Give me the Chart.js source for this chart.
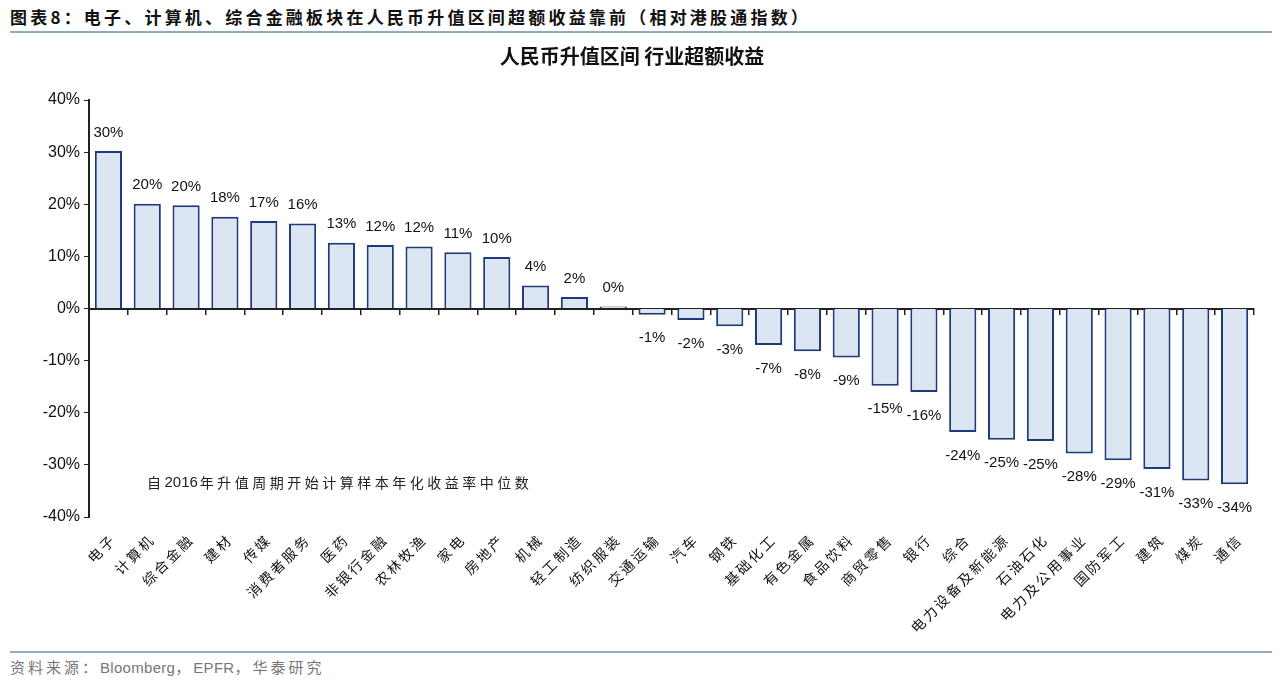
<!DOCTYPE html>
<html>
<head>
<meta charset="utf-8">
<script src="https://cdn.jsdelivr.net/npm/chart.js@4.4.1/dist/chart.umd.min.js"></script>
<style>
  body { margin: 0; background: #fff; width: 1280px; height: 685px; position: relative; overflow: hidden; font-family: "Noto Sans CJK SC", sans-serif; }
  #head { position: absolute; left: 10px; top: 4px; font-size: 17px; font-weight: bold; letter-spacing: 3.2px; color: #111; white-space: nowrap; }
  .rule { position: absolute; left: 10px; width: 1262px; height: 2px; background: #93aac6; }
  #src { position: absolute; left: 10px; top: 656px; font-size: 15px; color: #777; letter-spacing: 3px; white-space: nowrap; }
  #src .en { font-family: "Liberation Sans", Arial, sans-serif; letter-spacing: 0.3px; }
  #wrap { position: absolute; left: 0; top: 40px; width: 1280px; height: 605px; }
</style>
</head>
<body>
<div id="head">图表8：电子、计算机、综合金融板块在人民币升值区间超额收益靠前（相对港股通指数）</div>
<div class="rule" style="top:31px"></div>
<div class="rule" style="top:651px"></div>
<div id="src">资料来源：<span class="en">Bloomberg</span>，<span class="en">EPFR</span>，华泰研究</div>
<div id="wrap"><canvas id="c"></canvas></div>
<script>
// 行业
const industries = ['电子', '计算机', '综合金融', '建材', '传媒', '消费者服务', '医药', '非银行金融', '农林牧渔', '家电',
  '房地产', '机械', '轻工制造', '纺织服装', '交通运输', '汽车', '钢铁', '基础化工', '有色金属', '食品饮料',
  '商贸零售', '银行', '综合', '电力设备及新能源', '石油石化', '电力及公用事业', '国防军工', '建筑', '煤炭', '通信'];
// 超额收益 (%)
const excessReturn = [30.2, 20.1, 19.8, 17.6, 16.8, 16.3, 12.6, 12.2, 11.9, 10.8,
  9.9, 4.4, 2.2, 0.4, -1.2, -2.2, -3.4, -7.0, -8.2, -9.4,
  -14.8, -16.0, -23.7, -25.2, -25.4, -27.8, -29.1, -30.8, -33.0, -33.7];
const yTicks = [-40, -30, -20, -10, 0, 10, 20, 30, 40];
const noteParts = ['自', '2016', '年升值周期开始计算样本年化收益率中位数'];

const cn = '"Noto Sans CJK SC", sans-serif';
const num = '"Liberation Sans", Arial, sans-serif';

// 类目轴：中文标签字距加宽
class SpacedCategory extends Chart.CategoryScale {
  drawLabels(area) {
    this.ctx.save();
    this.ctx.letterSpacing = '2.5px';
    this.ctx.translate(5, 2);
    super.drawLabels(area);
    this.ctx.restore();
  }
}
SpacedCategory.id = 'spacedCategory';
SpacedCategory.defaults = Chart.CategoryScale.defaults;
Chart.register(SpacedCategory);

// 柱顶/柱底数值 + 注释
const valueLabels = {
  id: 'valueLabels',
  afterDatasetsDraw(chart) {
    const ctx = chart.ctx;
    const meta = chart.getDatasetMeta(0);
    ctx.save();
    ctx.font = '15px ' + num;
    ctx.fillStyle = '#111';
    ctx.textAlign = 'center';
    meta.data.forEach((bar, i) => {
      const v = excessReturn[i];
      const txt = Math.round(v) + '%';
      if (v >= 0) {
        ctx.textBaseline = 'bottom';
        ctx.fillText(txt, bar.x, bar.y - 11);
      } else {
        ctx.textBaseline = 'top';
        ctx.fillText(txt, bar.x, bar.y + 16);
      }
    });
    // 注释文字
    const ny = chart.scales.y.getPixelForValue(-33.5);
    let nx = chart.chartArea.left + 58;
    ctx.textAlign = 'left';
    ctx.textBaseline = 'middle';
    ctx.fillStyle = '#222';
    noteParts.forEach((p, i) => {
      const isNum = i === 1;
      ctx.font = isNum ? '15px ' + num : '14px ' + cn;
      ctx.letterSpacing = isNum ? '0px' : '3.5px';
      ctx.fillText(p, nx, ny);
      nx += ctx.measureText(p).width + (isNum ? 2 : 0);
    });
    ctx.restore();
  }
};

new Chart(document.getElementById('c'), {
  type: 'bar',
  data: {
    labels: industries,
    datasets: [{
      data: excessReturn,
      backgroundColor: '#dce6f2',
      borderColor: '#1f3b7a',
      borderWidth: 2,
      barPercentage: 0.7,
      categoryPercentage: 1.0,
      xAxisID: 'x'
    }]
  },
  options: {
    responsive: true,
    maintainAspectRatio: false,
    animation: false,
    layout: { padding: { top: 4, left: 10, right: 26, bottom: 0 } },
    plugins: {
      legend: { display: false },
      tooltip: { enabled: false },
      title: {
        display: true,
        text: '人民币升值区间 行业超额收益',
        color: '#111',
        font: { family: cn, size: 20, weight: 'bold' },
        padding: { top: 0, bottom: 32 }
      }
    },
    scales: {
      x: {
        type: 'category',
        position: { y: 0 },
        offset: true,
        border: { display: true, color: '#222', width: 2 },
        grid: { offset: true, drawOnChartArea: false, drawTicks: true, tickLength: 5, color: '#222', lineWidth: 1.5 },
        ticks: { display: false }
      },
      x2: {
        type: 'spacedCategory',
        labels: industries,
        position: 'bottom',
        offset: true,
        border: { display: false },
        grid: { display: false },
        ticks: {
          autoSkip: false,
          minRotation: 45,
          maxRotation: 45,
          color: '#111',
          padding: 4,
          font: { family: cn, size: 14 }
        },
        afterFit(s) { s.height = 128; }
      },
      y: {
        min: -40,
        max: 40,
        afterBuildTicks(s) { s.ticks = yTicks.map(v => ({ value: v })); },
        border: { display: true, color: '#222', width: 2 },
        grid: { drawOnChartArea: false, drawTicks: true, tickLength: 5, color: '#222' },
        ticks: {
          color: '#111',
          padding: 4,
          font: { family: num, size: 16 },
          callback: v => v + '%'
        },
        afterFit(s) { s.width = 79; }
      }
    }
  },
  plugins: [valueLabels]
});
</script>
</body>
</html>
